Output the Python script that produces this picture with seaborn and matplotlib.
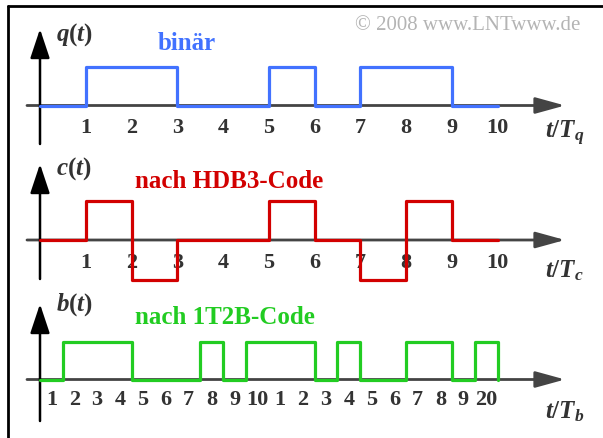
import matplotlib.pyplot as plt
import seaborn as sns
import pandas as pd
import numpy as np

# source bits, HDB3 symbols and 1T2B bits
q_bits = [0, 1, 1, 0, 0, 1, 0, 1, 1, 0]
c_symbols = [0, 1, -1, 0, 0, 1, 0, -1, 1, 0]
b_bits = [0, 1, 1, 1, 0, 0, 0, 1, 0, 1, 1, 1, 0, 1, 0, 0, 1, 1, 0, 1]

q_ticklabels = [str(i) for i in range(1, 11)]
b_ticklabels = [str(i) for i in range(1, 10)] + ["10"] + [str(i) for i in range(1, 10)] + ["20"]

titles = ["binär", "nach HDB3-Code", "nach 1T2B-Code"]
names = [r"$q(t)$", r"$c(t)$", r"$b(t)$"]
xlabels = [r"$t/T_q$", r"$t/T_c$", r"$t/T_b$"]
colors = ["#4272ff", "#d20000", "#22cc22"]

W, H = 603, 439
X0 = 40.0      # pixel of t = 0
TQ = 45.75     # pixels per T_q

sns.set_style("white")
plt.rcParams.update({
    "font.family": ["Liberation Serif", "DejaVu Serif"],
    "mathtext.fontset": "custom",
    "mathtext.it": "Liberation Serif:italic:bold",
    "mathtext.rm": "Liberation Serif:bold",
    "mathtext.bf": "Liberation Serif:bold",
})

fig = plt.figure(figsize=(W / 100, H / 100), dpi=100)


def fx(px):
    return px / W


def fy(py):
    return 1 - py / H


# frame (top and left edge visible)
fig.add_artist(plt.Line2D([fx(8), fx(8)], [0, fy(7)], transform=fig.transFigure, color="black", lw=2))
fig.add_artist(plt.Line2D([fx(8), 1], [fy(7), fy(7)], transform=fig.transFigure, color="black", lw=2))

fig.text(fx(355), fy(26), "© 2008 www.LNTwww.de", fontsize=15, color="#b4b4b4", va="center")

panels = [
    dict(vals=q_bits, y0=106.5, amp=39.0, unit=TQ, vtop=30, vbot=145, name_y=35, title_y=43,
         title_x=158, lab_base=138, ticks=np.arange(1, 11), labels=q_ticklabels, half=False),
    dict(vals=c_symbols, y0=241.0, amp=39.5, unit=TQ, vtop=165, vbot=280, name_y=169, title_y=182,
         title_x=135, lab_base=277, ticks=np.arange(1, 11), labels=q_ticklabels, half=False),
    dict(vals=b_bits, y0=380.5, amp=37.5, unit=TQ / 2, vtop=305, vbot=422, name_y=305, title_y=318,
         title_x=135, lab_base=418, ticks=np.arange(1, 21), labels=b_ticklabels, half=True),
]

for i, p in enumerate(panels):
    ax = fig.add_axes([0, 0, 1, 1])
    ax.patch.set_alpha(0)
    unit = p["unit"]
    ax.set_xlim(-X0 / unit, (W - X0) / unit)
    ax.set_ylim((p["y0"] - H) / p["amp"], p["y0"] / p["amp"])

    vals = list(p["vals"])
    n = len(vals)
    # last symbol held to t = n, then back to zero
    df = pd.DataFrame({"t": list(range(n + 1)) + [n], "v": vals + [vals[-1], 0]})
    sns.lineplot(data=df, x="t", y="v", drawstyle="steps-post", color=colors[i], lw=2.3,
                 estimator=None, sort=False, solid_joinstyle="round", ax=ax, zorder=3)

    for s in ax.spines.values():
        s.set_visible(False)
    ax.spines["bottom"].set_position(("data", 0))
    ax.set_yticks([])
    ax.set_xlabel("")
    ax.set_ylabel("")

    if p["half"]:
        ax.set_xticks(p["ticks"])
        ax.set_xticks(p["ticks"] - 0.5, labels=p["labels"], minor=True)
        ax.tick_params(axis="x", which="major", labelbottom=False)
        ax.tick_params(axis="x", which="minor", length=0, pad=7)
    else:
        ax.set_xticks(p["ticks"], labels=p["labels"])
    ax.tick_params(axis="x", which="major", direction="inout", length=9, width=1.3,
                   color="#444444", pad=4)
    ax.tick_params(axis="x", which="both", labelsize=16, labelcolor="#333333")
    for lab in ax.get_xticklabels(which="both"):
        lab.set_fontweight("bold")

    # axes arrows
    ppx = unit
    ax.annotate("", xy=((565 - X0) / ppx, 0), xytext=((27 - X0) / ppx, 0),
                arrowprops=dict(arrowstyle="-|>,head_length=1.2,head_width=0.33", mutation_scale=15,
                                lw=2, color="#444444", shrinkA=0, shrinkB=0), zorder=1)
    ax.annotate("", xy=(0, (p["y0"] - p["vtop"]) / p["amp"]), xytext=(0, (p["y0"] - p["vbot"]) / p["amp"]),
                arrowprops=dict(arrowstyle="-|>,head_length=1.2,head_width=0.4", mutation_scale=15,
                                lw=1.8, color="black", shrinkA=0, shrinkB=0), zorder=1)

    fig.text(fx(56), fy(p["name_y"]), names[i], fontsize=18, color="#333333", va="center")
    fig.text(fx(p["title_x"]), fy(p["title_y"]), titles[i], fontsize=18, fontweight="bold",
             color=colors[i], va="center")
    fig.text(fx(545), fy(p["lab_base"]), xlabels[i], fontsize=18, color="#333333", va="baseline")

fig.savefig("out.png", dpi=100)
